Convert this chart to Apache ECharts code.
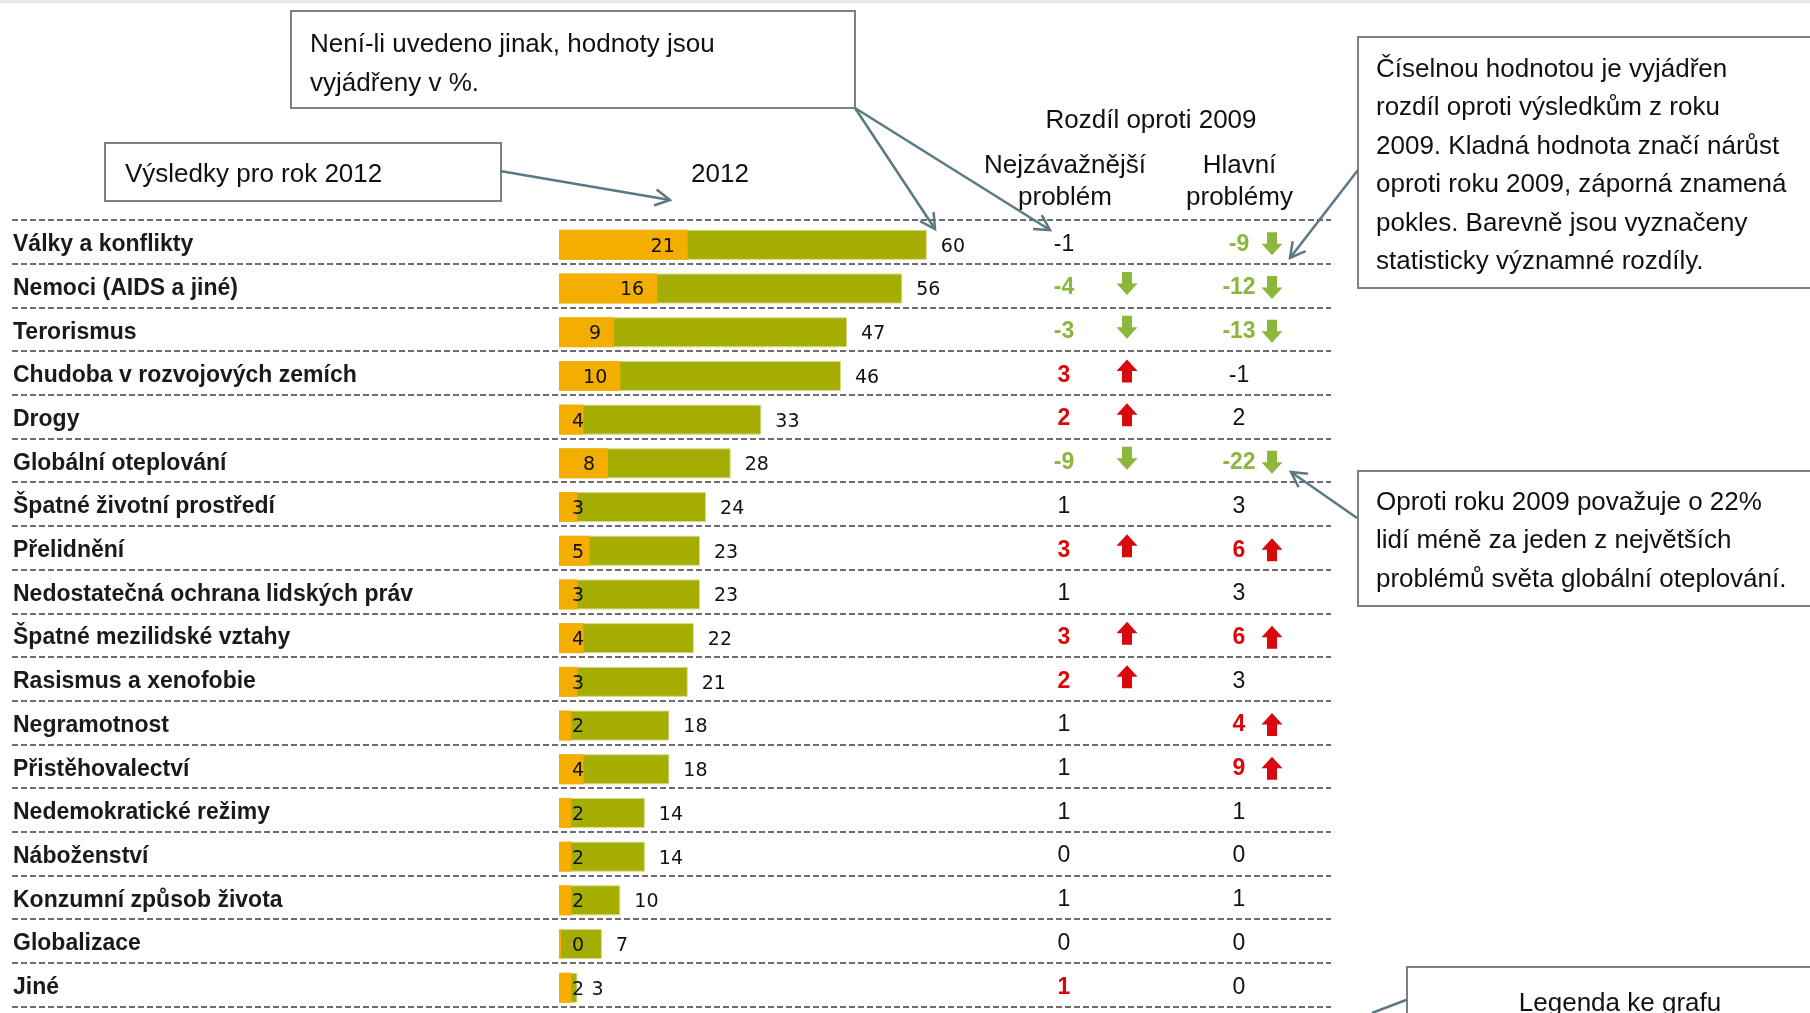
<!DOCTYPE html>
<html>
<head>
<meta charset="utf-8">
<script src="https://cdn.jsdelivr.net/npm/echarts@6/dist/echarts.min.js"></script>
<style>
    html, body { margin: 0; padding: 0; background: #fff; }
    #chart { width: 1810px; height: 1013px; }
</style>
</head>
<body>
<div id="chart"></div>
<script>
// kategorie (problémy světa)
var categories = [
    'Války a konflikty', 'Nemoci (AIDS a jiné)', 'Terorismus', 'Chudoba v rozvojových zemích',
    'Drogy', 'Globální oteplování', 'Špatné životní prostředí', 'Přelidnění',
    'Nedostatečná ochrana lidských práv', 'Špatné mezilidské vztahy', 'Rasismus a xenofobie',
    'Negramotnost', 'Přistěhovalectví', 'Nedemokratické režimy', 'Náboženství',
    'Konzumní způsob života', 'Globalizace', 'Jiné'
];
// 2012 - nejzávažnější problém / hlavní problémy
var topProblem   = [21, 16, 9, 10, 4, 8, 3, 5, 3, 4, 3, 2, 4, 2, 2, 2, 0, 2];
var mainProblems = [60, 56, 47, 46, 33, 28, 24, 23, 23, 22, 21, 18, 18, 14, 14, 10, 7, 3];
// rozdíl oproti 2009
var diffTop   = [-1, -4, -3, 3, 2, -9, 1, 3, 1, 3, 2, 1, 1, 1, 0, 1, 0, 1];
var sigTop    = [0, 1, 1, 1, 1, 1, 0, 1, 0, 1, 1, 0, 0, 0, 0, 0, 0, 1];
var arrowTop  = [0, 1, 1, 1, 1, 1, 0, 1, 0, 1, 1, 0, 0, 0, 0, 0, 0, 0];
var diffMain  = [-9, -12, -13, -1, 2, -22, 3, 6, 3, 6, 3, 4, 9, 1, 0, 1, 0, 0];
var sigMain   = [1, 1, 1, 0, 0, 1, 0, 1, 0, 1, 0, 1, 1, 0, 0, 0, 0, 0];
var arrowMain = [1, 1, 1, 0, 0, 1, 0, 1, 0, 1, 0, 1, 1, 0, 0, 0, 0, 0];

var GREEN_BAR = '#a4ad00';
var ORANGE_BAR = '#f4ae00';
var GREEN_TXT = '#8db63c';
var RED_TXT = '#d9080c';
var LINE_CLR = '#5a7a83';
var FONT = '"Liberation Sans", Arial, sans-serif';
var BAR_FONT = '"DejaVu Sans", Verdana, sans-serif';

// sloupce rozdílů (px)
var colTop = 1064, colTopArrow = 1127, colMain = 1239, colMainArrow = 1272;

var myChart = echarts.init(document.getElementById('chart'));

// šipka s otevřeným hrotem
function arrow(x1, y1, x2, y2) {
    var a = Math.atan2(y2 - y1, x2 - x1);
    var len = 17, spread = 0.5;
    return [
        { type: 'line', z: 10, shape: { x1: x1, y1: y1, x2: x2, y2: y2 }, style: { stroke: LINE_CLR, lineWidth: 2.5 } },
        { type: 'polyline', z: 10, shape: { points: [
            [x2 - len * Math.cos(a - spread), y2 - len * Math.sin(a - spread)],
            [x2, y2],
            [x2 - len * Math.cos(a + spread), y2 - len * Math.sin(a + spread)]
        ] }, style: { stroke: LINE_CLR, lineWidth: 2.5, fill: null } }
    ];
}

function box(x, y, w, h) {
    return { type: 'rect', z: 5, shape: { x: x, y: y, width: w, height: h }, style: { fill: '#fff', stroke: '#808080', lineWidth: 2 } };
}

function label(text, x, y, opt) {
    opt = opt || {};
    return {
        type: 'text', z: 11, x: x, y: y + 2.5,
        style: {
            text: text, fill: '#111', font: (opt.size || 26) + 'px ' + FONT,
            align: opt.align || 'left', verticalAlign: 'middle', lineHeight: opt.lineHeight || 38.5
        }
    };
}

var graphics = [
    { type: 'rect', shape: { x: 0, y: 0, width: 1810, height: 3 }, style: { fill: '#e2e9ec' } },
    box(291, 11, 564, 97),
    label('Není-li uvedeno jinak, hodnoty jsou\nvyjádřeny v %.', 310, 61.5, { lineHeight: 39 }),
    box(105, 143, 396, 58),
    label('Výsledky pro rok 2012', 125, 172),
    label('2012', 720, 172.5, { align: 'center' }),
    label('Rozdíl oproti 2009', 1151, 118, { align: 'center' }),
    label('Nejzávažnější\nproblém', 1065, 179, { align: 'center', lineHeight: 32 }),
    label('Hlavní\nproblémy', 1239.5, 179, { align: 'center', lineHeight: 32 }),
    box(1358, 37, 470, 251),
    label('Číselnou hodnotou je vyjádřen\nrozdíl oproti výsledkům z roku\n2009. Kladná hodnota značí nárůst\noproti roku 2009, záporná znamená\npokles. Barevně jsou vyznačeny\nstatisticky významné rozdíly.', 1376, 163.5),
    box(1358, 471, 470, 135),
    label('Oproti roku 2009 považuje o 22%\nlidí méně za jeden z největších\nproblémů světa globální oteplování.', 1376, 538.5),
    box(1407, 967, 420, 80),
    label('Legenda ke grafu', 1620, 1001, { align: 'center' }),
    { type: 'line', z: 10, shape: { x1: 1406, y1: 1000, x2: 1372, y2: 1013 }, style: { stroke: LINE_CLR, lineWidth: 2.5 } }
];
graphics = graphics
    .concat(arrow(500, 171, 670, 200))
    .concat(arrow(855, 108, 935, 229))
    .concat(arrow(855, 108, 1050, 230))
    .concat(arrow(1358, 170, 1290, 258))
    .concat(arrow(1357, 518, 1291, 472));

// popisky oranžových pruhů
var topData = topProblem.map(function (v) {
    return {
        value: v,
        label: v >= 6 ? { position: 'insideRight', distance: 13 } : { position: 'insideLeft', distance: 13 }
    };
});

var diffData = categories.map(function (c, i) {
    return [i, diffTop[i], sigTop[i], arrowTop[i], diffMain[i], sigMain[i], arrowMain[i]];
});

function arrowShape(cx, cy, up, fill) {
    var h = 11.5, w = 10.5, s = 5, d = up ? -1 : 1;
    return {
        type: 'polygon',
        shape: { points: [
            [cx - s, cy - d * h], [cx + s, cy - d * h], [cx + s, cy], [cx + w, cy],
            [cx, cy + d * h], [cx - w, cy], [cx - s, cy]
        ] },
        style: { fill: fill }
    };
}

function diffCell(val, sig, showArrow, cx, ax, cy, arrowShift) {
    var color = !sig ? '#111' : (val > 0 ? RED_TXT : GREEN_TXT);
    var items = [{
        type: 'text',
        style: {
            text: String(val), x: cx, y: cy + 2.5, fill: color,
            font: (sig ? 'bold ' : '') + '23px ' + FONT,
            align: 'center', verticalAlign: 'middle'
        }
    }];
    if (showArrow) {
        items.push(arrowShape(ax, cy + arrowShift, val > 0, color));
    }
    return items;
}

var option = {
    animation: false,
    backgroundColor: '#fff',
    graphic: graphics,
    grid: [
        { left: 559, top: 223, width: 613, height: 786.6 },
        { left: 12, top: 220, width: 1319, height: 786.6 }
    ],
    xAxis: [
        { gridIndex: 0, type: 'value', min: 0, max: 100, show: false },
        { gridIndex: 1, type: 'value', min: 12, max: 1331, show: false }
    ],
    yAxis: [
        {
            gridIndex: 0, type: 'category', data: categories, inverse: true,
            axisLine: { show: false }, axisTick: { show: false }, splitLine: { show: false },
            axisLabel: {
                margin: 546, align: 'left', color: '#1a1a1a',
                fontFamily: FONT, fontWeight: 'bold', fontSize: 23
            }
        },
        {
            gridIndex: 1, type: 'category', data: categories, inverse: true,
            axisLine: { show: false }, axisTick: { show: false }, axisLabel: { show: false },
            splitLine: { show: true, lineStyle: { color: '#3c3c3c', width: 1.5, type: [6, 3] } }
        }
    ],
    series: [
        {
            name: 'Hlavní problémy',
            type: 'bar',
            xAxisIndex: 0, yAxisIndex: 0,
            data: mainProblems,
            barWidth: 30,
            barGap: '-100%',
            itemStyle: { color: GREEN_BAR, borderColor: '#d6da8c', borderWidth: 1 },
            label: {
                show: true, position: 'right', distance: 14, offset: [0, 2],
                fontFamily: BAR_FONT, fontSize: 19, color: '#111'
            }
        },
        {
            name: 'Nejzávažnější problém',
            type: 'bar',
            xAxisIndex: 0, yAxisIndex: 0,
            data: topData,
            barWidth: 30,
            barGap: '-100%',
            barMinHeight: 2,
            itemStyle: { color: ORANGE_BAR },
            label: {
                show: true, offset: [0, 2],
                fontFamily: BAR_FONT, fontSize: 19, color: '#111'
            }
        },
        {
            name: 'Rozdíl oproti 2009',
            type: 'custom',
            xAxisIndex: 1, yAxisIndex: 1,
            data: diffData,
            clip: false,
            renderItem: function (params, api) {
                var row = api.value(0);
                var pTop = api.coord([colTop, row]);
                var pTopA = api.coord([colTopArrow, row]);
                var pMain = api.coord([colMain, row]);
                var pMainA = api.coord([colMainArrow, row]);
                var children = diffCell(api.value(1), api.value(2), api.value(3), pTop[0], pTopA[0], pTop[1], -2)
                    .concat(diffCell(api.value(4), api.value(5), api.value(6), pMain[0], pMainA[0], pMain[1], 2));
                return { type: 'group', children: children };
            }
        }
    ]
};

myChart.setOption(option);
</script>
</body>
</html>
